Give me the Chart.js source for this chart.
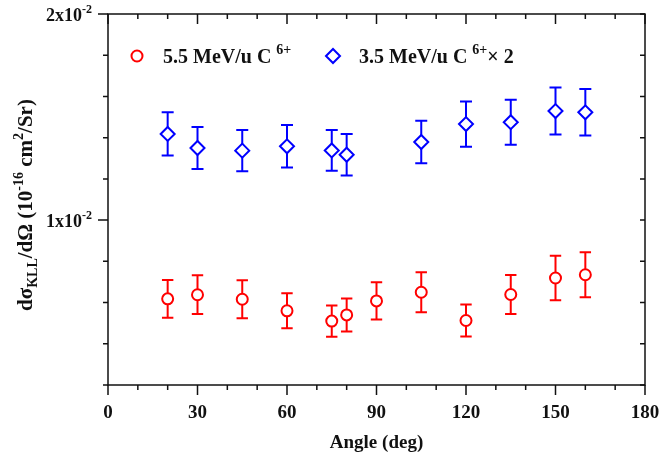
<!DOCTYPE html>
<html>
<head>
<meta charset="utf-8">
<script src="https://cdn.jsdelivr.net/npm/chart.js@4.4.1/dist/chart.umd.min.js"></script>
<style>
  html, body { margin:0; padding:0; background:#fff; }
  #wrap { width:659px; height:459px; }
</style>
</head>
<body>
<div id="wrap"><canvas id="kllChart" width="659" height="459"></canvas></div>
<script>
// 5.5 MeV/u C6+ : angle (deg), cross section, error
const anglesC55 = [20, 30, 45, 60, 75, 80, 90, 105, 120, 135, 150, 160];
const sigmaC55  = [0.00618, 0.00638, 0.00616, 0.00560, 0.00510, 0.00540, 0.00608, 0.00650, 0.00513, 0.00639, 0.00719, 0.00735];
const errC55    = [0.00092, 0.00094, 0.00092, 0.00085, 0.00076, 0.00080, 0.00090, 0.00097, 0.00078, 0.00095, 0.00108, 0.00109];

// 3.5 MeV/u C6+ (x2)
const anglesC35 = [20, 30, 45, 60, 75, 80, 105, 120, 135, 150, 160];
const sigmaC35  = [0.01418, 0.01350, 0.01337, 0.01358, 0.01338, 0.01317, 0.01379, 0.01466, 0.01475, 0.01529, 0.01523];
const errC35    = [0.00105, 0.00102, 0.00100, 0.00103, 0.00099, 0.00101, 0.00103, 0.00110, 0.00109, 0.00114, 0.00113];

const xTickLabels = [0, 30, 60, 90, 120, 150, 180];
const yTickValues = [0.01, 0.02];
const yTickMant   = ["1x10", "2x10"];
const yTickExp    = "-2";

const RED = "#ff0000";
const BLUE = "#0000ff";
const INK = "#111";
const SERIF = "'Liberation Serif', 'Times New Roman', serif";

const font = (size) => `bold ${size}px ${SERIF}`;

// text with sub/superscript pieces: [text, size, dy]
function richWidth(ctx, parts){
  let w = 0;
  parts.forEach(p => { ctx.font = font(p[1]); w += ctx.measureText(p[0]).width; });
  return w;
}
function drawRich(ctx, parts, x, y, align){
  let cx = x;
  if (align === "right") cx = x - richWidth(ctx, parts);
  if (align === "center") cx = x - richWidth(ctx, parts) / 2;
  parts.forEach(p => {
    ctx.font = font(p[1]);
    ctx.fillText(p[0], cx, y + (p[2] || 0));
    cx += ctx.measureText(p[0]).width;
  });
}

const errorBars = {
  id: "errorBars",
  beforeDatasetsDraw(chart){
    const {ctx, scales:{x, y}} = chart;
    const sets = [
      {xs: anglesC35, ys: sigmaC35, es: errC35, color: BLUE, cap: 6},
      {xs: anglesC55, ys: sigmaC55, es: errC55, color: RED, cap: 5.7},
    ];
    ctx.save();
    ctx.lineWidth = 2;
    sets.forEach(s => {
      ctx.strokeStyle = s.color;
      s.xs.forEach((a, i) => {
        const px = x.getPixelForValue(a);
        const top = y.getPixelForValue(s.ys[i] + s.es[i]);
        const bot = y.getPixelForValue(s.ys[i] - s.es[i]);
        ctx.beginPath();
        ctx.moveTo(px, top); ctx.lineTo(px, bot);
        ctx.moveTo(px - s.cap, top); ctx.lineTo(px + s.cap, top);
        ctx.moveTo(px - s.cap, bot); ctx.lineTo(px + s.cap, bot);
        ctx.stroke();
      });
    });
    ctx.restore();
  }
};

const frame = {
  id: "frame",
  afterDraw(chart){
    const {ctx, chartArea:a, scales:{x, y}} = chart;
    ctx.save();
    ctx.strokeStyle = INK;
    ctx.fillStyle = INK;
    ctx.lineWidth = 1.5;
    ctx.strokeRect(a.left, a.top, a.right - a.left, a.bottom - a.top);

    ctx.beginPath();
    for (let v = 0; v <= 180; v += 10) {
      const px = x.getPixelForValue(v);
      const len = v % 30 === 0 ? 10 : 5;
      ctx.moveTo(px, a.bottom); ctx.lineTo(px, a.bottom + len);
      ctx.moveTo(px, a.top); ctx.lineTo(px, a.top + len);
    }
    for (let k = 1; k <= 10; k++) {
      const v = k * 0.002;
      const py = y.getPixelForValue(v);
      const len = k % 5 === 0 ? 10 : 5;
      ctx.moveTo(a.left, py); ctx.lineTo(a.left - len, py);
      ctx.moveTo(a.right, py); ctx.lineTo(a.right - 5, py);
    }
    ctx.stroke();

    // x tick labels and title
    ctx.textBaseline = "alphabetic";
    ctx.textAlign = "center";
    ctx.font = font(19);
    xTickLabels.forEach(v => ctx.fillText(String(v), x.getPixelForValue(v), 418));
    ctx.font = font(19);
    ctx.fillText("Angle (deg)", (a.left + a.right) / 2, 448);

    // y tick labels
    ctx.textAlign = "left";
    yTickValues.forEach((v, i) => {
      const py = y.getPixelForValue(v);
      drawRich(ctx, [[yTickMant[i], 18, 0], [yTickExp, 12, -8]], 92, py + 7, "right");
    });

    // y title
    ctx.save();
    ctx.translate(32, 205);
    ctx.rotate(-Math.PI / 2);
    drawRich(ctx, [
      ["d\u03c3", 21, 0], ["KLL", 14, 5], ["/d\u03a9 (10", 21, 0], ["-16", 14, -9],
      [" cm", 21, 0], ["2", 14, -9], ["/Sr)", 21, 0]
    ], 0, 0, "center");
    ctx.restore();

    // legend
    ctx.lineWidth = 2;
    ctx.strokeStyle = RED;
    ctx.beginPath(); ctx.arc(137, 56, 5.5, 0, Math.PI * 2); ctx.stroke();
    ctx.strokeStyle = BLUE;
    ctx.beginPath();
    ctx.moveTo(326, 56); ctx.lineTo(333, 49); ctx.lineTo(340, 56); ctx.lineTo(333, 63); ctx.closePath();
    ctx.stroke();
    ctx.fillStyle = INK;
    drawRich(ctx, [["5.5 MeV/u C ", 20, 0], ["6+", 14, -9]], 163, 63, "left");
    drawRich(ctx, [["3.5 MeV/u C ", 20, 0], ["6+", 14, -9], ["\u00d7 2", 20, 0]], 359, 63, "left");
    ctx.restore();
  }
};

const toPoints = (xs, ys) => xs.map((v, i) => ({x: v, y: ys[i]}));

new Chart(document.getElementById("kllChart"), {
  type: "scatter",
  data: {
    datasets: [
      {
        label: "3.5 MeV/u C6+ x 2",
        data: toPoints(anglesC35, sigmaC35),
        pointStyle: "rectRot", pointRadius: 7,
        borderColor: BLUE, backgroundColor: "#fff", borderWidth: 2
      },
      {
        label: "5.5 MeV/u C6+",
        data: toPoints(anglesC55, sigmaC55),
        pointStyle: "circle", pointRadius: 5.5,
        borderColor: RED, backgroundColor: "#fff", borderWidth: 2
      }
    ]
  },
  options: {
    responsive: false,
    animation: false,
    events: [],
    layout: { padding: {left: 108, right: 14, top: 14, bottom: 74} },
    plugins: { legend: {display: false}, tooltip: {enabled: false} },
    scales: {
      x: { type: "linear", min: 0, max: 180, display: false },
      y: { type: "linear", min: 0.002, max: 0.02, display: false }
    }
  },
  plugins: [errorBars, frame]
});
</script>
</body>
</html>
